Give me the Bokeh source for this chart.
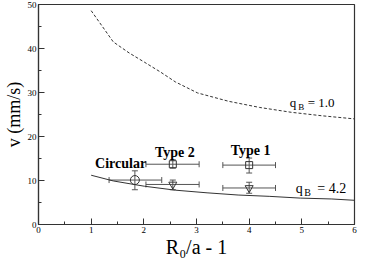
from bokeh.plotting import figure
from bokeh.models import (Range1d, SingleIntervalTicker, Whisker, TeeHead,
                          ColumnDataSource, Label)
from bokeh.embed import file_html
from bokeh.resources import INLINE

# --- data ---
qb1_x = [1.0, 1.42, 1.72, 2.01, 2.31, 2.60, 3.02, 3.61, 4.20, 4.80, 5.39, 6.0]
qb1_y = [48.6, 41.5, 39.0, 36.9, 34.7, 32.4, 29.9, 28.0, 26.6, 25.5, 24.7, 24.0]

qb42_x = [1.0, 1.42, 2.01, 2.60, 3.20, 3.79, 4.38, 4.97, 5.57, 6.0]
qb42_y = [11.2, 9.9, 8.7, 7.8, 7.2, 6.7, 6.4, 6.0, 5.8, 5.5]

circ_x = [1.83]
circ_y = [10.1]
circ_xlo = [1.34]
circ_xhi = [2.34]
circ_ylo = [7.9]
circ_yhi = [12.2]

sq_x = [2.55, 4.0]
sq_y = [13.7, 13.5]
sq_xlo = [2.04, 3.5]
sq_xhi = [3.05, 4.5]
sq_ylo = [12.8, 11.7]
sq_yhi = [14.7, 15.1]

tri_x = [2.55, 4.0]
tri_y = [9.1, 8.3]
tri_xlo = [2.04, 3.5]
tri_xhi = [3.05, 4.5]
tri_ylo = [7.9, 7.1]
tri_yhi = [10.1, 9.6]

x_ticks = [0, 1, 2, 3, 4, 5, 6]
y_ticks = [0, 10, 20, 30, 40, 50]

FONT = "Liberation Serif"
DARK = "#333333"
BAR = "#555555"

p = figure(width=358, height=260, output_backend="svg", toolbar_location=None,
           x_range=Range1d(0, 6), y_range=Range1d(0, 50),
           min_border_left=2, min_border_right=4, min_border_top=4,
           min_border_bottom=2)
p.xgrid.visible = False
p.ygrid.visible = False
p.outline_line_color = DARK
p.outline_line_width = 1.2

for ax, interval in ((p.xaxis, 1), (p.yaxis, 10)):
    ax.ticker = SingleIntervalTicker(interval=interval, num_minor_ticks=2)
    ax.axis_line_color = DARK
    ax.axis_line_width = 1.2
    ax.major_tick_line_color = DARK
    ax.minor_tick_line_color = DARK
    ax.major_tick_in = 6
    ax.major_tick_out = 0
    ax.minor_tick_in = 3
    ax.minor_tick_out = 0
    ax.major_label_text_font = FONT
    ax.major_label_text_font_size = "9px"
    ax.major_label_text_color = "black"
    ax.major_label_standoff = 2
    ax.axis_label_text_font = FONT
    ax.axis_label_text_font_style = "normal"
    ax.axis_label_text_color = "black"
p.xaxis.major_label_overrides = {t: str(t) for t in x_ticks}
p.yaxis.major_label_overrides = {t: str(t) for t in y_ticks}
p.xaxis.axis_label = "R\u2080/a - 1"
p.xaxis.axis_label_text_font_size = "20px"
p.xaxis.axis_label_standoff = 0
p.yaxis.axis_label = "v (mm/s)"
p.yaxis.axis_label_text_font_size = "18px"
p.yaxis.axis_label_standoff = 1

# curves
p.line(qb1_x, qb1_y, line_color=DARK, line_width=1, line_dash="3 2")
p.line(qb42_x, qb42_y, line_color=DARK, line_width=1)

# error bars
def add_errors(xs, ys, xlo, xhi, ylo, yhi):
    src = ColumnDataSource(dict(x=xs, y=ys, xlo=xlo, xhi=xhi, ylo=ylo, yhi=yhi))
    p.add_layout(Whisker(source=src, base="y", lower="xlo", upper="xhi",
                         dimension="width", line_color=BAR, line_width=1,
                         upper_head=TeeHead(size=6, line_color=BAR, line_width=1),
                         lower_head=TeeHead(size=6, line_color=BAR, line_width=1)))
    p.add_layout(Whisker(source=src, base="x", lower="ylo", upper="yhi",
                         dimension="height", line_color=BAR, line_width=1,
                         upper_head=TeeHead(size=6, line_color=BAR, line_width=1),
                         lower_head=TeeHead(size=6, line_color=BAR, line_width=1)))

add_errors(circ_x, circ_y, circ_xlo, circ_xhi, circ_ylo, circ_yhi)
add_errors(sq_x, sq_y, sq_xlo, sq_xhi, sq_ylo, sq_yhi)
add_errors(tri_x, tri_y, tri_xlo, tri_xhi, tri_ylo, tri_yhi)

p.scatter(circ_x, circ_y, marker="circle", size=9, fill_color=None,
          line_color=DARK, line_width=1)
p.scatter(sq_x, sq_y, marker="square", size=7, fill_color=None,
          line_color=DARK, line_width=1)
p.scatter(tri_x, tri_y, marker="inverted_triangle", size=8, fill_color=None,
          line_color=DARK, line_width=1)

def lab(x, y, text, size, xo=0, yo=0, bold=False):
    p.add_layout(Label(x=x, y=y, text=text, x_offset=xo, y_offset=yo,
                       text_font=FONT, text_font_size=size,
                       text_font_style="bold" if bold else "normal",
                       text_color="black", text_baseline="alphabetic",
                       text_align="left"))

# group labels
lab(1.075, 13.8, "Circular", "14px", bold=True)
lab(2.21, 16.3, "Type 2", "14px", bold=True)
lab(3.65, 16.9, "Type 1", "14px", bold=True)

# curve labels
lab(4.77, 27.66, "q", "13px")
lab(4.77, 27.66, "B", "9px", xo=8.5, yo=-4.5)
lab(4.77, 27.66, "= 1.0", "13px", xo=18)
lab(4.885, 8.15, "q", "14px")
lab(4.885, 8.15, "B", "10px", xo=8.5, yo=-4)
lab(4.885, 8.15, "= 4.2", "14px", xo=21.5)

open("out.html", "w").write(file_html(p, INLINE))
